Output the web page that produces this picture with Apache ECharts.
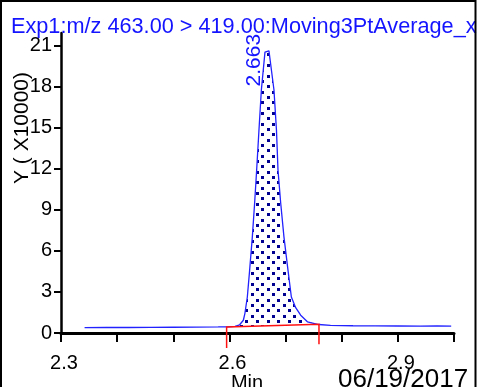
<!DOCTYPE html>
<html><head><meta charset="utf-8">
<script src="https://cdn.jsdelivr.net/npm/echarts@6/dist/echarts.min.js"></script>
<style>html,body{margin:0;padding:0;background:#fff;overflow:hidden}#c{width:477px;height:387px}</style>
</head><body><div id="c"></div>
<script>
// ---- data ----
const times = [2.342, 2.38, 2.42, 2.46, 2.50, 2.54, 2.58, 2.595, 2.610, 2.6182, 2.6248, 2.6276, 2.6319, 2.6360, 2.6408, 2.6449, 2.6485, 2.6526, 2.6569, 2.6633, 2.6704, 2.6793, 2.6838, 2.6865, 2.6913, 2.6971, 2.7043, 2.7103, 2.7180, 2.7269, 2.7389, 2.7590, 2.78, 2.82, 2.86, 2.90, 2.94, 2.97, 2.995];
const intensities = [0.39, 0.40, 0.40, 0.41, 0.42, 0.43, 0.44, 0.45, 0.48, 0.60, 0.93, 1.44, 2.63, 4.59, 7.02, 9.49, 11.9, 14.8, 17.76, 20.5, 20.6, 17.76, 14.8, 11.9, 9.49, 7.02, 4.59, 2.63, 1.85, 1.30, 0.82, 0.62, 0.56, 0.53, 0.52, 0.51, 0.50, 0.51, 0.50];
const xTicks = [2.3, 2.4, 2.5, 2.6, 2.7, 2.8, 2.9, 3.0];
const xLabels = [2.3, 2.6, 2.9];
const yTicks = [0, 3, 6, 9, 12, 15, 18, 21];
const peakRT = 2.663;
const peakApex = 20.5;
const integStart = [2.595, 0.44];
const integEnd = [2.7595, 0.64];
const titleText = 'Exp1:m/z 463.00 > 419.00:Moving3PtAverage_x';
const xName = 'Min';
const yName = 'Y ( X10000)';
const dateText = '06/19/2017';

// ---- pattern ----
const pc = document.createElement('canvas'); pc.width = 32; pc.height = 32;
const g = pc.getContext('2d'); g.fillStyle = '#000090';
const rowsY = [0, 5, 11, 16, 21, 27];
rowsY.forEach((ry, k) => {
  const xs = (k % 2 === 0) ? [0, 11, 21] : [5, 16, 27];
  xs.forEach(rx => g.fillRect(rx, ry, 3, 3));
});

const FONT = 'Liberation Sans';
const chart = echarts.init(document.getElementById('c'), null, {renderer: 'canvas'});
chart.setOption({
  animation: false,
  backgroundColor: '#fff',
  title: {text: titleText, left: 6, top: 11, textStyle: {color: '#1414ff', fontFamily: FONT, fontSize: 21.7, fontWeight: 'normal'}},
  grid: {left: 61, right: 23, top: 33, bottom: 54, containLabel: false},
  xAxis: {
    type: 'value', min: 2.3, max: 3.0,
    axisLine: {lineStyle: {color: '#000', width: 3}},
    axisTick: {show: true, length: 9, lineStyle: {color: '#000', width: 2}, customValues: xTicks},
    axisLabel: {customValues: xLabels, formatter: v => v.toFixed(1), color: '#000', fontFamily: FONT, fontSize: 20, margin: 20, padding: [0, 0, 0, 6]},
    splitLine: {show: false}
  },
  yAxis: {
    type: 'value', min: 0, max: 21.9,
    axisLine: {show: true, lineStyle: {color: '#000', width: 2.5}},
    axisTick: {show: true, length: 7, lineStyle: {color: '#000', width: 2}, customValues: yTicks},
    axisLabel: {customValues: yTicks, color: '#000', fontFamily: FONT, fontSize: 20, margin: 9, padding: [8, 0, 0, 0]},
    splitLine: {show: false}
  },
  graphic: [
    {type: 'rect', shape: {x: 1, y: 1, width: 474.5, height: 400}, style: {fill: null, stroke: '#000', lineWidth: 2}, z: 100},
    {type: 'text', x: 22, y: 128, rotation: Math.PI / 2, style: {text: yName, fill: '#000', font: '21px ' + FONT, align: 'center', verticalAlign: 'middle'}},
    {type: 'text', x: 247, y: 373, style: {text: xName, fill: '#000', font: '20px ' + FONT, align: 'center', verticalAlign: 'top'}},
    {type: 'text', x: 338, y: 367, style: {text: dateText, fill: '#000', font: '26px ' + FONT, align: 'left', verticalAlign: 'top'}}
  ],
  series: [
    {
      type: 'custom', coordinateSystem: 'cartesian2d', data: [[integStart[0], integStart[1]]], z: 2, clip: false, silent: true,
      renderItem: (params, api) => {
        const pts = [api.coord(integStart)];
        times.forEach((t, i) => { if (t > integStart[0] && t < integEnd[0]) pts.push(api.coord([t, intensities[i]])); });
        pts.push(api.coord(integEnd));
        return {type: 'polygon', shape: {points: pts}, style: {fill: {image: pc, repeat: 'repeat'}, stroke: null}};
      }
    },
    {
      type: 'line', data: times.map((t, i) => [t, intensities[i]]), showSymbol: false, z: 3,
      lineStyle: {color: '#2222ff', width: 1.3}
    },
    {
      type: 'custom', coordinateSystem: 'cartesian2d', data: [[integEnd[0], integEnd[1]]], z: 4, clip: false, silent: true,
      renderItem: (params, api) => {
        const a = api.coord(integStart), b = api.coord(integEnd);
        return {type: 'polyline', shape: {points: [[a[0], a[1] + 21], a, b, [b[0], b[1] + 20]]}, style: {stroke: '#ff1010', lineWidth: 1.5, fill: null}};
      }
    },
    {
      type: 'custom', coordinateSystem: 'cartesian2d', data: [[peakRT, peakApex]], z: 5, clip: false, silent: true,
      renderItem: (params, api) => {
        const p = api.coord([peakRT, peakApex]);
        return {type: 'text', x: p[0] - 11, y: p[1] + 8, rotation: Math.PI / 2,
          style: {text: peakRT.toFixed(3), fill: '#1414ff', font: '21px ' + FONT, align: 'center', verticalAlign: 'middle'}};
      }
    }
  ]
});
</script></body></html>
